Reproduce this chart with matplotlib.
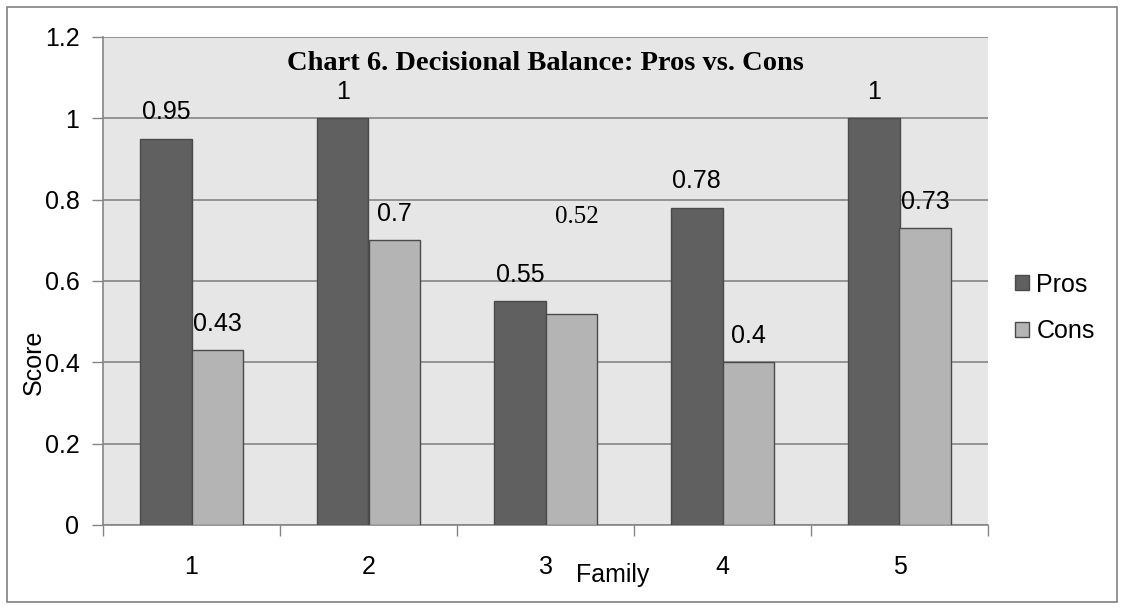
import numpy as np
import matplotlib.pyplot as plt
from matplotlib.patches import Rectangle

families = ["1", "2", "3", "4", "5"]
pros = [0.95, 1.0, 0.55, 0.78, 1.0]
cons = [0.43, 0.7, 0.52, 0.4, 0.73]

W, H = 1125, 609
fig = plt.figure(figsize=(W / 100, H / 100), dpi=100)
ax = fig.add_axes([103 / W, 1 - 525 / H, (988 - 103) / W, (525 - 37) / H])

# outer frame of the chart
fig.patches.append(Rectangle((7 / W, 1 - 602 / H), 1110 / W, 595 / H,
                             transform=fig.transFigure, fill=False,
                             edgecolor="#808080", linewidth=1.2))

fs = 18
sans = "Liberation Sans"

x = np.arange(len(families))
w = 0.29
ax.set_facecolor("#e6e6e6")
b1 = ax.bar(x - w / 2, pros, w, color="#606060", edgecolor="#4a4a4a", linewidth=1, label="Pros", zorder=3)
b2 = ax.bar(x + w / 2, cons, w, color="#b4b4b4", edgecolor="#4a4a4a", linewidth=1, label="Cons", zorder=3)

ax.set_xlim(-0.5, len(families) - 0.5)
ax.set_ylim(0, 1.2)
ax.set_yticks(np.arange(0, 1.21, 0.2))
ax.set_yticklabels(["0", "0.2", "0.4", "0.6", "0.8", "1", "1.2"])
ax.yaxis.grid(True, color="#858585", linewidth=1.2, zorder=1)
ax.set_axisbelow(True)
ax.set_xticks(np.arange(-0.5, len(families), 1.0))
ax.set_xticklabels([])
ax.tick_params(axis="both", length=8, width=1, color="#858585", labelsize=fs, pad=9)
for s in ["top", "right"]:
    ax.spines[s].set_visible(False)
for s in ["left", "bottom"]:
    ax.spines[s].set_color("#858585")
    ax.spines[s].set_linewidth(1.2)

for lab in ax.get_yticklabels():
    lab.set_fontfamily(sans)

# category labels sit well below the axis
for i, f in enumerate(families):
    ax.annotate(f, (i, 0), xytext=(0, -30), textcoords="offset points",
                ha="center", va="center", fontsize=fs, family=sans)

# data labels
for i in range(len(families)):
    ax.text(i - w / 2, pros[i] + 0.065, f"{pros[i]:g}", ha="center", va="center",
            fontsize=fs, family=sans)
    if i == 2:
        ax.text(i + w / 2 + 0.03, 0.757, f"{cons[i]:g}", ha="center", va="center",
                fontsize=fs, family="Liberation Serif")
    else:
        ax.text(i + w / 2, cons[i] + 0.065, f"{cons[i]:g}", ha="center", va="center",
                fontsize=fs, family=sans)

ax.text(0.5, 0.945, "Chart 6. Decisional Balance: Pros vs. Cons", transform=ax.transAxes,
        ha="center", va="center", fontsize=20.5, fontweight="bold", family="Liberation Serif")

fig.text(34 / W, 1 - 362 / H, "Score", rotation=90, ha="center", va="center",
         fontsize=fs, family=sans)
fig.text(613 / W, 1 - 575 / H, "Family", ha="center", va="center", fontsize=fs, family=sans)

leg = fig.legend([b1, b2], ["Pros", "Cons"], loc="center left",
                 bbox_to_anchor=(1015 / W, 1 - 308 / H), frameon=False,
                 prop={"family": sans, "size": fs}, handlelength=0.55, handleheight=0.55,
                 handletextpad=0.3, labelspacing=0.9, borderpad=0, borderaxespad=0)

fig.savefig("out.png", dpi=100)
